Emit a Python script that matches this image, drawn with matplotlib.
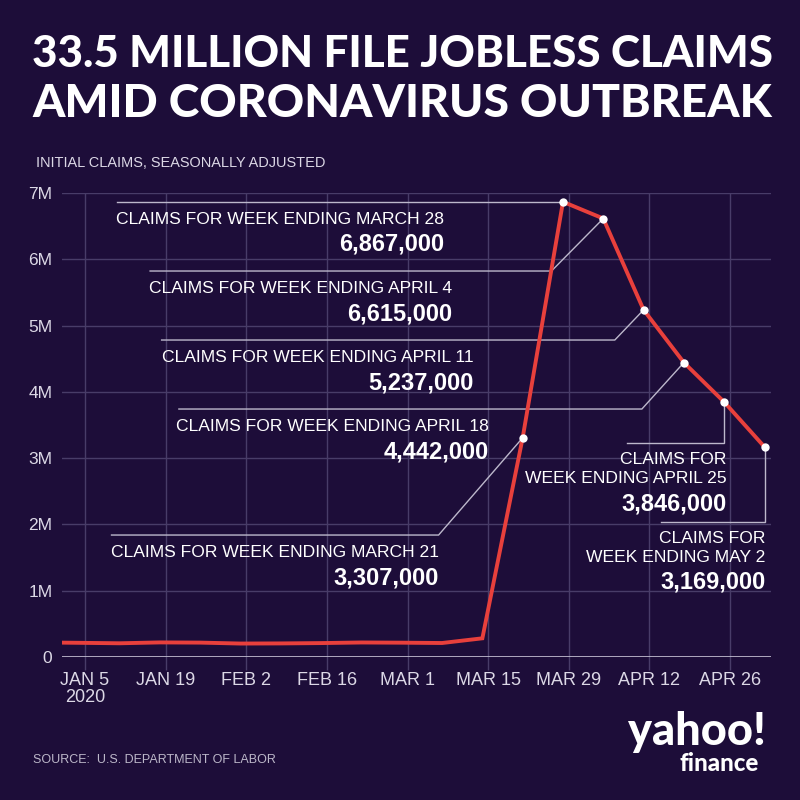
import matplotlib
matplotlib.use('Agg')
import matplotlib.pyplot as plt
from matplotlib import font_manager
from matplotlib.transforms import offset_copy, blended_transform_factory
import pandas as pd

# weekly initial claims, seasonally adjusted (week ending Saturday)
weeks = ['2019-12-28', '2020-01-04', '2020-01-11', '2020-01-18', '2020-01-25',
         '2020-02-01', '2020-02-08', '2020-02-15', '2020-02-22', '2020-02-29',
         '2020-03-07', '2020-03-14', '2020-03-21', '2020-03-28', '2020-04-04',
         '2020-04-11', '2020-04-18', '2020-04-25', '2020-05-02']
claims = [220000, 214000, 207000, 220000, 217000,
          203000, 205000, 210000, 219000, 216000,
          211000, 282000, 3307000, 6867000, 6615000,
          5237000, 4442000, 3846000, 3169000]

tick_dates = ['2020-01-05', '2020-01-19', '2020-02-02', '2020-02-16', '2020-03-01',
              '2020-03-15', '2020-03-29', '2020-04-12', '2020-04-26']
tick_labels = ['JAN 5\n2020', 'JAN 19', 'FEB 2', 'FEB 16', 'MAR 1',
               'MAR 15', 'MAR 29', 'APR 12', 'APR 26']
y_ticks = [0, 1e6, 2e6, 3e6, 4e6, 5e6, 6e6, 7e6]
y_labels = ['0', '1M', '2M', '3M', '4M', '5M', '6M', '7M']

# callouts: week, label lines
callout_weeks = ['2020-03-28', '2020-04-04', '2020-04-11', '2020-04-18',
                 '2020-03-21', '2020-04-25', '2020-05-02']
callout_labels = [['CLAIMS FOR WEEK ENDING MARCH 28'],
                  ['CLAIMS FOR WEEK ENDING APRIL 4'],
                  ['CLAIMS FOR WEEK ENDING APRIL 11'],
                  ['CLAIMS FOR WEEK ENDING APRIL 18'],
                  ['CLAIMS FOR WEEK ENDING MARCH 21'],
                  ['CLAIMS FOR', 'WEEK ENDING APRIL 25'],
                  ['CLAIMS FOR', 'WEEK ENDING MAY 2']]
# layout of leader lines (days relative to the point, elbow height in claims)
elbow_dx = [0, -9.0, -5.0, -7.3, -14.6, 0, 0]
elbow_y = [None, 5.823e6, 4.782e6, 3.741e6, 1.840e6, 3.228e6, 2.037e6]
line_left_dx = [-77.4, -78.7, -83.7, -87.7, -71.4, -16.8, -17.9]
text_right_dx = [-20.7, -26.2, -29.5, -33.9, -14.6, 0.35, 0.2]

BG = '#1d0d39'
RED = '#e8403c'
GRID = '#483c68'
LEADER = '#bdb8cc'
TXT = '#dcd8e6'

avail = {f.name for f in font_manager.fontManager.ttflist}
NARROW = 'Liberation Sans Narrow' if 'Liberation Sans Narrow' in avail else 'Liberation Sans'
REG = 'Liberation Sans'
TITLE_FONT = 'Lato' if 'Lato' in avail else 'DejaVu Sans'

plt.rcParams['font.family'] = [REG, 'DejaVu Sans']

fig = plt.figure(figsize=(8, 8), dpi=100, facecolor=BG)
ax = fig.add_axes([62 / 800, 1 - 657 / 800, (771 - 62) / 800, (657 - 193) / 800])
ax.set_facecolor(BG)

x = pd.to_datetime(weeks)
ax.set_xlim(pd.Timestamp('2020-01-01'), pd.Timestamp('2020-05-03 03:00'))
ax.set_ylim(0, 7e6)

# grid
ax.set_yticks(y_ticks)
ax.set_yticklabels(y_labels, fontsize=12.5, color=TXT, family=[NARROW, 'DejaVu Sans'])
ax.set_xticks(pd.to_datetime(tick_dates))
ax.set_xticklabels(tick_labels, fontsize=13, color=TXT, linespacing=0.95)
ax.tick_params(length=0)
ax.tick_params(axis='y', pad=7)
ax.tick_params(axis='x', pad=11)
for s in ax.spines.values():
    s.set_visible(False)
for yt in y_ticks[1:]:
    ax.axhline(yt, color=GRID, lw=1, zorder=1)
ax.axhline(0, color='#c8c3d6', lw=1.2, zorder=2)
trans_v = blended_transform_factory(ax.transData, ax.transAxes)
ax.vlines(pd.to_datetime(tick_dates), -0.028, 1, transform=trans_v,
          color=GRID, lw=1, zorder=1, clip_on=False)

# leader lines + labels
vals = dict(zip(weeks, claims))
for i, wk in enumerate(callout_weeks):
    d = pd.Timestamp(wk)
    v = vals[wk]
    ey = v if elbow_y[i] is None else elbow_y[i]
    ex = d + pd.Timedelta(days=elbow_dx[i])
    lx = d + pd.Timedelta(days=line_left_dx[i])
    ax.plot([lx, ex, d], [ey, ey, v], color=LEADER, lw=1, zorder=3,
            solid_joinstyle='miter')
    tx = d + pd.Timedelta(days=text_right_dx[i])
    lines = callout_labels[i]
    if len(lines) == 1:
        offs = [-22]
        voff = -49
    else:
        offs = [-21, -40]
        voff = -67
    for ln, off in zip(lines, offs):
        tr = offset_copy(ax.transData, fig=fig, x=0, y=off, units='dots')
        ax.text(tx, ey, ln, transform=tr, ha='right', va='baseline',
                fontsize=12.6, color='white')
    tr = offset_copy(ax.transData, fig=fig, x=0, y=voff, units='dots')
    ax.text(tx, ey, f'{v:,}', transform=tr, ha='right', va='baseline',
            fontsize=17, color='white', fontweight='bold')

ax.plot(x, claims, color=RED, lw=2.8, zorder=4, solid_joinstyle='miter')
mk = pd.to_datetime(callout_weeks)
ax.plot(mk, [vals[w] for w in callout_weeks], 'o', color='white',
        markersize=6, zorder=5, markeredgewidth=0)

# title, subtitle, source
t1 = fig.text(32 / 800, 1 - 67 / 800, '33.5 MILLION FILE JOBLESS CLAIMS',
              fontsize=30, color='white', fontweight='black',
              family=[TITLE_FONT, 'DejaVu Sans'], va='baseline')
t2 = fig.text(32 / 800, 1 - 117 / 800, 'AMID CORONAVIRUS OUTBREAK',
              fontsize=30, color='white', fontweight='black',
              family=[TITLE_FONT, 'DejaVu Sans'], va='baseline')
sub = fig.text(36 / 800, 1 - 167 / 800, 'INITIAL CLAIMS, SEASONALLY ADJUSTED',
               fontsize=11.5, color=TXT, family=[NARROW, 'DejaVu Sans'], va='baseline')
src = fig.text(33 / 800, 1 - 763 / 800, 'SOURCE:  U.S. DEPARTMENT OF LABOR',
               fontsize=9.5, color='#bcb7c9', family=[NARROW, 'DejaVu Sans'], va='baseline')
# logo as text: one block, two sizes
y1 = fig.text(628 / 800, 1 - 745 / 800, 'yahoo!', fontsize=34, color='white',
              fontweight='black', family=[TITLE_FONT, 'DejaVu Sans'], va='baseline')
y2 = fig.text(679 / 800, 1 - 771 / 800, 'finance', fontsize=18, color='white',
              fontweight='black', family=[TITLE_FONT, 'DejaVu Sans'], va='baseline')

fig.canvas.draw()
r = fig.canvas.get_renderer()
for t, w in [(t1, 738), (t2, 738), (sub, 290), (src, 245), (y1, 138), (y2, 79)]:
    cur = t.get_window_extent(r).width
    t.set_fontsize(t.get_fontsize() * w / cur)

fig.savefig('out.png', dpi=100, facecolor=BG)
